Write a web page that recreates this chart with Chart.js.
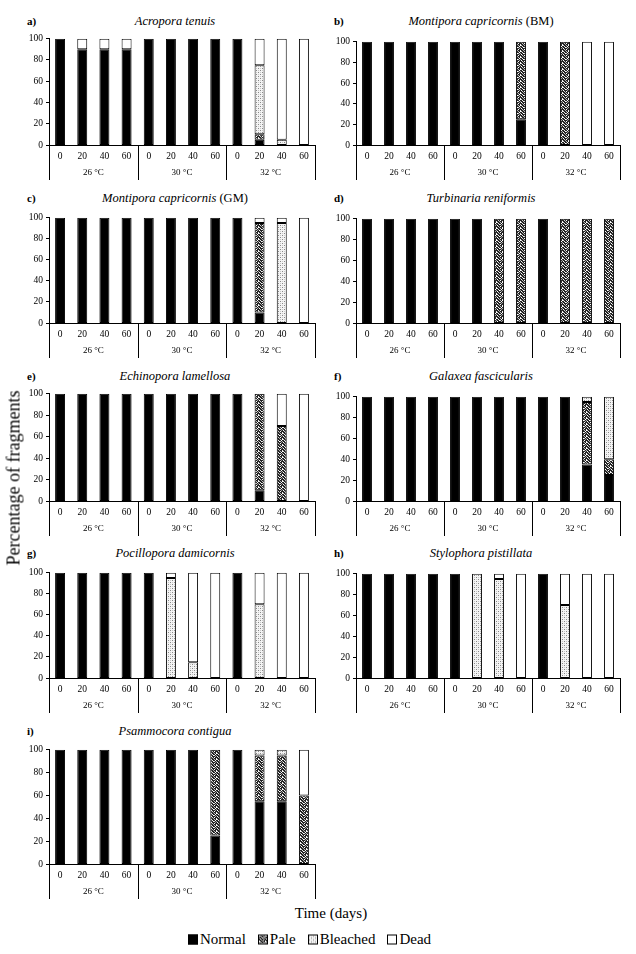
<!DOCTYPE html>
<html>
<head>
<meta charset="utf-8">
<script src="https://cdn.jsdelivr.net/npm/chart.js@4"></script>
<style>
    body { margin: 0; background: #fff; }
    #page { position: relative; width: 636px; height: 954px; overflow: hidden; font-family: "Liberation Serif", "Times New Roman", serif; color: #000; }
    #page canvas { position: absolute; }
    .lbl { position: absolute; font-size: 11px; font-weight: bold; }
    .ttl { position: absolute; font-size: 12.5px; white-space: nowrap; transform: translateX(-50%); }
    .ttl i { font-style: italic; }
    #ytitle { position: absolute; left: 14px; top: 478px; font-size: 18px; white-space: nowrap; transform: translate(-50%, -50%) rotate(-90deg); }
    #xtitle { position: absolute; left: 331px; top: 913px; font-size: 15px; transform: translate(-50%, -50%); white-space: nowrap; }
    #legend { position: absolute; left: 188px; top: 939px; font-size: 15px; transform: translateY(-50%); white-space: nowrap; display: flex; align-items: center; }
    #legend span.sw { display: inline-block; width: 10px; height: 10px; border: 1px solid #000; margin-right: 2px; box-sizing: border-box; }
    #legend span.it { margin-right: 12px; }
</style>
</head>
<body>
<div id="page"></div>
<script>
// categorias
const days = ["0", "20", "40", "60", "0", "20", "40", "60", "0", "20", "40", "60"];
const temps = ["26 °C", "30 °C", "32 °C"];
const yTicks = [0, 20, 40, 60, 80, 100];
const status = ["Normal", "Pale", "Bleached", "Dead"];

// a) Acropora tenuis
const aNormal   = [100, 90, 90, 90, 100, 100, 100, 100, 100, 5, 0, 0];
const aPale     = [0, 0, 0, 0, 0, 0, 0, 0, 0, 5, 0, 0];
const aBleached = [0, 0, 0, 0, 0, 0, 0, 0, 0, 65, 5, 0];
const aDead     = [0, 10, 10, 10, 0, 0, 0, 0, 0, 25, 95, 100];

// b) Montipora capricornis (BM)
const bNormal   = [100, 100, 100, 100, 100, 100, 100, 25, 100, 0, 0, 0];
const bPale     = [0, 0, 0, 0, 0, 0, 0, 75, 0, 100, 0, 0];
const bBleached = [0, 0, 0, 0, 0, 0, 0, 0, 0, 0, 0, 0];
const bDead     = [0, 0, 0, 0, 0, 0, 0, 0, 0, 0, 100, 100];

// c) Montipora capricornis (GM)
const cNormal   = [100, 100, 100, 100, 100, 100, 100, 100, 100, 10, 0, 0];
const cPale     = [0, 0, 0, 0, 0, 0, 0, 0, 0, 85, 0, 0];
const cBleached = [0, 0, 0, 0, 0, 0, 0, 0, 0, 0, 95, 0];
const cDead     = [0, 0, 0, 0, 0, 0, 0, 0, 0, 5, 5, 100];

// d) Turbinaria reniformis
const dNormal   = [100, 100, 100, 100, 100, 100, 0, 0, 100, 0, 0, 0];
const dPale     = [0, 0, 0, 0, 0, 0, 100, 100, 0, 100, 100, 100];
const dBleached = [0, 0, 0, 0, 0, 0, 0, 0, 0, 0, 0, 0];
const dDead     = [0, 0, 0, 0, 0, 0, 0, 0, 0, 0, 0, 0];

// e) Echinopora lamellosa
const eNormal   = [100, 100, 100, 100, 100, 100, 100, 100, 100, 10, 0, 0];
const ePale     = [0, 0, 0, 0, 0, 0, 0, 0, 0, 90, 70, 0];
const eBleached = [0, 0, 0, 0, 0, 0, 0, 0, 0, 0, 0, 0];
const eDead     = [0, 0, 0, 0, 0, 0, 0, 0, 0, 0, 30, 100];

// f) Galaxea fascicularis
const fNormal   = [100, 100, 100, 100, 100, 100, 100, 100, 100, 100, 35, 25];
const fPale     = [0, 0, 0, 0, 0, 0, 0, 0, 0, 0, 60, 15];
const fBleached = [0, 0, 0, 0, 0, 0, 0, 0, 0, 0, 5, 60];
const fDead     = [0, 0, 0, 0, 0, 0, 0, 0, 0, 0, 0, 0];

// g) Pocillopora damicornis
const gNormal   = [100, 100, 100, 100, 100, 0, 0, 0, 100, 0, 0, 0];
const gPale     = [0, 0, 0, 0, 0, 0, 0, 0, 0, 0, 0, 0];
const gBleached = [0, 0, 0, 0, 0, 95, 15, 0, 0, 70, 0, 0];
const gDead     = [0, 0, 0, 0, 0, 5, 85, 100, 0, 30, 100, 100];

// h) Stylophora pistillata
const hNormal   = [100, 100, 100, 100, 100, 0, 0, 0, 100, 0, 0, 0];
const hPale     = [0, 0, 0, 0, 0, 0, 0, 0, 0, 0, 0, 0];
const hBleached = [0, 0, 0, 0, 0, 100, 95, 0, 0, 70, 0, 0];
const hDead     = [0, 0, 0, 0, 0, 0, 5, 100, 0, 30, 100, 100];

// i) Psammocora contigua
const iNormal   = [100, 100, 100, 100, 100, 100, 100, 25, 100, 55, 55, 0];
const iPale     = [0, 0, 0, 0, 0, 0, 0, 75, 0, 40, 40, 60];
const iBleached = [0, 0, 0, 0, 0, 0, 0, 0, 0, 5, 5, 0];
const iDead     = [0, 0, 0, 0, 0, 0, 0, 0, 0, 0, 0, 40];

const FONT = '"Liberation Serif", "Times New Roman", serif';

// posicao de cada painel (layout so)
let paineis = [
    {lbl: "a)", nome: "Acropora tenuis", extra: "", dados: [aNormal, aPale, aBleached, aDead], col: 0, top: 38, bottom: 145, tTop: 22},
    {lbl: "b)", nome: "Montipora capricornis", extra: " (BM)", dados: [bNormal, bPale, bBleached, bDead], col: 1, top: 41, bottom: 145, tTop: 22},
    {lbl: "c)", nome: "Montipora capricornis", extra: " (GM)", dados: [cNormal, cPale, cBleached, cDead], col: 0, top: 217, bottom: 323, tTop: 199},
    {lbl: "d)", nome: "Turbinaria reniformis", extra: "", dados: [dNormal, dPale, dBleached, dDead], col: 1, top: 218, bottom: 323, tTop: 199},
    {lbl: "e)", nome: "Echinopora lamellosa", extra: "", dados: [eNormal, ePale, eBleached, eDead], col: 0, top: 393, bottom: 501, tTop: 377},
    {lbl: "f)", nome: "Galaxea fascicularis", extra: "", dados: [fNormal, fPale, fBleached, fDead], col: 1, top: 396, bottom: 501, tTop: 377},
    {lbl: "g)", nome: "Pocillopora damicornis", extra: "", dados: [gNormal, gPale, gBleached, gDead], col: 0, top: 572, bottom: 678, tTop: 554},
    {lbl: "h)", nome: "Stylophora pistillata", extra: "", dados: [hNormal, hPale, hBleached, hDead], col: 1, top: 573, bottom: 678, tTop: 554},
    {lbl: "i)", nome: "Psammocora contigua", extra: "", dados: [iNormal, iPale, iBleached, iDead], col: 0, top: 749, bottom: 864, tTop: 732}
];

let colunas = [
    {x: 0, w: 316, axisX: 49, rightX: 315, titleX: 175, lblX: 27},
    {x: 316, w: 320, axisX: 356, rightX: 620, titleX: 481, lblX: 334}
];

function makePattern(bg, pts, size) {
    let c = document.createElement("canvas");
    c.width = size;
    c.height = size;
    let g = c.getContext("2d");
    g.fillStyle = bg;
    g.fillRect(0, 0, size, size);
    pts.forEach(p => {
        g.fillStyle = p[2];
        g.fillRect(p[0], p[1], 1, 1);
    });
    return c;
}

// pale = manchado escuro, bleached = pontilhado claro
let paleTile = makePattern("#222", [
    [0, 0, "#fff"], [1, 0, "#ddd"], [4, 0, "#bbb"],
    [2, 1, "#eee"], [5, 1, "#fff"],
    [0, 2, "#aaa"], [3, 2, "#fff"], [4, 2, "#ccc"],
    [1, 3, "#fff"], [5, 3, "#999"],
    [2, 4, "#ccc"], [4, 4, "#fff"],
    [0, 5, "#eee"], [3, 5, "#aaa"]
], 6);
let bleachTile = makePattern("#f4f4f4", [[0, 0, "#888"], [2, 2, "#888"], [2, 0, "#c8c8c8"], [0, 2, "#c8c8c8"]], 4);

let tmpCtx = document.createElement("canvas").getContext("2d");
let palePattern = tmpCtx.createPattern(paleTile, "repeat");
let bleachPattern = tmpCtx.createPattern(bleachTile, "repeat");
let cores = ["#000", palePattern, bleachPattern, "#fff"];

// eixo x e caixas das temperaturas embaixo dele
const gruposPlugin = {
    id: "grupos",
    afterDraw(chart) {
        let xs = chart.scales.x;
        let ys = chart.scales.y;
        let ctx = chart.ctx;
        let step = xs.getPixelForValue(1) - xs.getPixelForValue(0);
        let y0 = Math.round(ys.getPixelForValue(0));
        ctx.save();
        ctx.strokeStyle = "#000";
        ctx.lineWidth = 1;
        ctx.fillStyle = "#000";
        ctx.font = "9px " + FONT;
        ctx.textAlign = "center";
        ctx.textBaseline = "middle";

        let xa = Math.round(xs.getPixelForValue(0) - step / 2);
        let xb = Math.round(xs.getPixelForValue(days.length - 1) + step / 2);
        ctx.beginPath();
        ctx.moveTo(xa - 3, y0 + 0.5);
        ctx.lineTo(xb + 1, y0 + 0.5);
        ctx.stroke();

        for (let g = 0; g < temps.length; g++) {
            let x0 = xs.getPixelForValue(g * 4) - step / 2;
            let x1 = xs.getPixelForValue(g * 4 + 3) + step / 2;
            [x0, x1].forEach(xx => {
                let px = Math.round(xx) + 0.5;
                ctx.beginPath();
                ctx.moveTo(px, y0);
                ctx.lineTo(px, y0 + 35);
                ctx.stroke();
            });
            ctx.fillText(temps[g], (x0 + x1) / 2, y0 + 28);
        }
        ctx.restore();
    }
};

let page = document.getElementById("page");

function criarPainel(p) {
    let col = colunas[p.col];
    let plotH = p.bottom - p.top;
    let canvas = document.createElement("canvas");
    canvas.width = col.w;
    canvas.height = 8 + plotH + 36;
    canvas.style.left = col.x + "px";
    canvas.style.top = (p.top - 8) + "px";
    page.appendChild(canvas);

    let lbl = document.createElement("div");
    lbl.className = "lbl";
    lbl.style.left = col.lblX + "px";
    lbl.style.top = (p.tTop - 7) + "px";
    lbl.textContent = p.lbl;
    page.appendChild(lbl);

    let ttl = document.createElement("div");
    ttl.className = "ttl";
    ttl.style.left = col.titleX + "px";
    ttl.style.top = (p.tTop - 8) + "px";
    ttl.innerHTML = `<i>${p.nome}</i>${p.extra}`;
    page.appendChild(ttl);

    let datasets = status.map((s, k) => ({
        label: s,
        data: p.dados[k].map(v => v === 0 ? null : v),
        backgroundColor: cores[k],
        borderColor: "#000",
        borderWidth: 1,
        borderSkipped: false,
        barPercentage: 0.45,
        categoryPercentage: 1
    }));

    new Chart(canvas, {
        type: "bar",
        data: { labels: days, datasets: datasets },
        options: {
            responsive: false,
            animation: false,
            devicePixelRatio: 1,
            layout: { padding: { top: 8, right: col.x + col.w - col.rightX, left: 0, bottom: 0 } },
            plugins: { legend: { display: false }, tooltip: { enabled: false }, title: { display: false } },
            scales: {
                x: {
                    stacked: true,
                    grid: { display: false, drawTicks: false },
                    border: { display: false },
                    ticks: { color: "#000", font: { family: FONT, size: 9.5 }, padding: 6, maxRotation: 0, autoSkip: false },
                    afterFit(s) { s.height = 36; }
                },
                y: {
                    stacked: true,
                    min: 0,
                    max: 100,
                    afterBuildTicks(s) { s.ticks = yTicks.map(v => ({ value: v })); },
                    grid: {
                        display: true,
                        drawOnChartArea: false,
                        drawTicks: true,
                        tickLength: 3,
                        color: "#000",
                        // sem linha no zero para a barra encostar no eixo
                        lineWidth: c => (c.tick && c.tick.value === 0) ? 0 : 1
                    },
                    border: { display: true, color: "#000", width: 1 },
                    ticks: { color: "#000", font: { family: FONT, size: 9.5 }, padding: 3 },
                    afterFit(s) { s.width = col.axisX - col.x; }
                }
            }
        },
        plugins: [gruposPlugin]
    });
}

paineis.forEach(p => criarPainel(p));

let yt = document.createElement("div");
yt.id = "ytitle";
yt.textContent = "Percentage of fragments";
page.appendChild(yt);

let xt = document.createElement("div");
xt.id = "xtitle";
xt.textContent = "Time (days)";
page.appendChild(xt);

let leg = document.createElement("div");
leg.id = "legend";
let swatchBg = ["#000", "url(" + paleTile.toDataURL() + ")", "url(" + bleachTile.toDataURL() + ")", "#fff"];
status.forEach((s, k) => {
    let sw = document.createElement("span");
    sw.className = "sw";
    sw.style.background = swatchBg[k];
    leg.appendChild(sw);
    let it = document.createElement("span");
    it.className = "it";
    it.textContent = s;
    leg.appendChild(it);
});
page.appendChild(leg);
</script>
</body>
</html>
